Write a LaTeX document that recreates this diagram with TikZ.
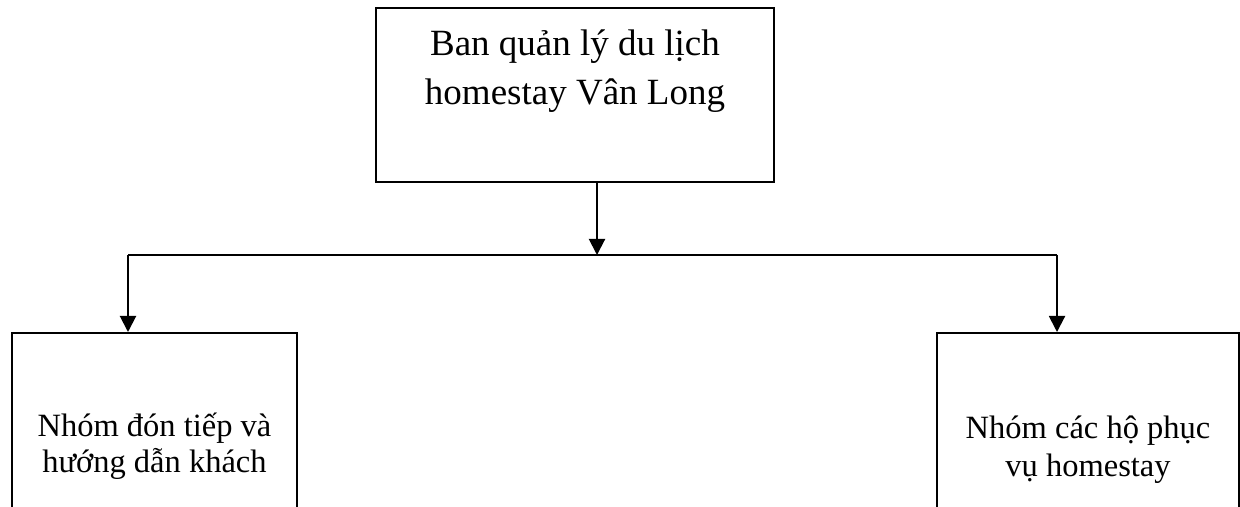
\documentclass[tikz,border=0pt]{standalone}
\usepackage{fontspec}
\setmainfont{Liberation Serif}
\usetikzlibrary{arrows.meta}

\begin{document}
\begin{tikzpicture}[x=0.5pt,y=-0.5pt]
	\tikzset{box/.style={draw,line width=1pt,align=center,inner sep=0pt},
		link/.style={line width=1pt,-{Triangle[length=8pt,width=8pt]}}}
	\useasboundingbox (0,0) rectangle (1240,507);
	\clip (0,0) rectangle (1240,507); % lower boxes run off the page
	\coordinate (Split)   at (597,255);
	\coordinate (BranchL) at (128,255);
	\coordinate (BranchR) at (1057,255);
	
	\node[box,minimum width=199pt,minimum height=87pt,font=\fontsize{18.5pt}{24.5pt}\selectfont] (BanQL) at (575,95) {Ban quản lý du lịch\\homestay Vân Long\\[3.5pt]\mbox{}};
	\node[box,minimum width=142.5pt,minimum height=113pt,font=\fontsize{16.25pt}{18pt}\selectfont] (NhomDon) at (154.5,446) {Nhóm đón tiếp và\\hướng dẫn khách};
	\node[box,minimum width=151pt,minimum height=117pt,font=\fontsize{16.25pt}{19pt}\selectfont] (NhomHo) at (1088,450) {Nhóm các hộ phục\\vụ homestay};
	
	\draw [link] (BanQL.south -| Split) -- (Split);% down to the branch line
	\draw [line width=1pt] (BranchL) -- (BranchR);
	\draw [link] (BranchL) -- (BranchL |- NhomDon.north);
	\draw [link] (BranchR) -- (BranchR |- NhomHo.north);
	
\end{tikzpicture}
\end{document}
